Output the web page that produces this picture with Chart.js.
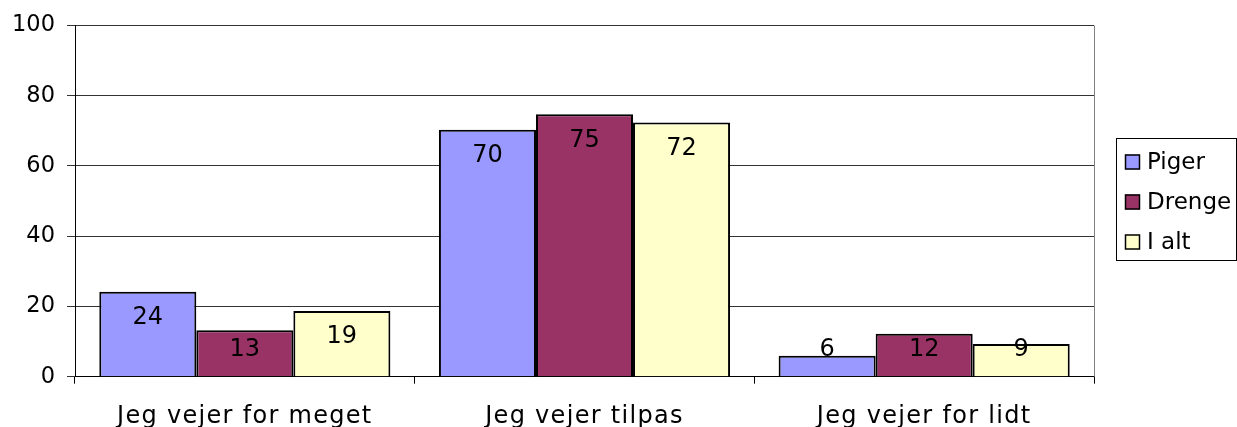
<!DOCTYPE html>
<html>
<head>
<meta charset="utf-8">
<style>
  html, body { margin: 0; padding: 0; background: #fff; }
  #wrap { width: 1237px; height: 427px; position: relative; }
</style>
<script src="https://cdn.jsdelivr.net/npm/chart.js@4.4.1/dist/chart.umd.min.js"></script>
</head>
<body>
<div id="wrap"><canvas id="c" width="1237" height="427"></canvas></div>
<script>
const categories = ["Jeg vejer for meget", "Jeg vejer tilpas", "Jeg vejer for lidt"];
const seriesNames = ["Piger", "Drenge", "I alt"];
const piger = [24.2, 70.3, 6.0];
const drenge = [13.2, 74.7, 12.2];
const iAlt = [18.7, 72.4, 9.3];
const yTicks = [0, 20, 40, 60, 80, 100];

const colors = ["#9999FF", "#993366", "#FFFFCC"];
const FONT = "DejaVu Sans";
const FS = 22.5;

const valueLabels = {
  id: 'valueLabels',
  afterDatasetsDraw(chart) {
    const ctx = chart.ctx;
    ctx.save();
    ctx.font = '24px "' + FONT + '"';
    ctx.fillStyle = '#000';
    ctx.textAlign = 'center';
    ctx.textBaseline = 'middle';
    chart.data.datasets.forEach((ds, i) => {
      const meta = chart.getDatasetMeta(i);
      meta.data.forEach((el, j) => {
        const top = el.y, base = el.base;
        const cy = Math.min(top + 26, base - 26);
        ctx.fillText(String(Math.round(ds.data[j])), el.x, cy);
      });
    });
    ctx.restore();
  }
};

const frameAndLegend = {
  id: 'frameAndLegend',
  beforeDraw(chart) {
    const xs = chart.scales.x;
    if (xs && !xs._lsPatched) {
      const orig = xs.drawLabels;
      xs.drawLabels = function (area) {
        const c = this.ctx;
        c.save();
        c.letterSpacing = '1.3px';
        orig.call(this, area);
        c.restore();
      };
      xs._lsPatched = true;
    }
  },
  afterDraw(chart) {
    const ctx = chart.ctx;
    const a = chart.chartArea;
    ctx.save();
    ctx.strokeStyle = '#808080';
    ctx.lineWidth = 1;
    ctx.beginPath();
    ctx.moveTo(Math.round(a.right) + 0.5, a.top);
    ctx.lineTo(Math.round(a.right) + 0.5, a.bottom);
    ctx.stroke();
    const lx = 1116, ly = 138, lw = 120, lh = 122;
    ctx.strokeStyle = '#000';
    ctx.strokeRect(lx + 0.5, ly + 0.5, lw, lh);
    ctx.font = '23px "' + FONT + '"';
    ctx.textAlign = 'left';
    ctx.textBaseline = 'middle';
    chart.data.datasets.forEach((ds, i) => {
      const cy = 162 + i * 40;
      ctx.fillStyle = ds.backgroundColor;
      ctx.fillRect(1125, cy - 7.5, 15, 15);
      ctx.strokeStyle = '#000';
      ctx.lineWidth = 1.5;
      ctx.strokeRect(1125.5, cy - 7, 14, 14);
      ctx.fillStyle = '#000';
      ctx.fillText(ds.label, 1147, cy + 1);
    });
    ctx.restore();
  }
};

const chart = new Chart(document.getElementById('c'), {
  type: 'bar',
  data: {
    labels: categories,
    datasets: [
      { label: seriesNames[0], data: piger, backgroundColor: colors[0] },
      { label: seriesNames[1], data: drenge, backgroundColor: colors[1] },
      { label: seriesNames[2], data: iAlt, backgroundColor: colors[2] }
    ].map(d => Object.assign(d, {
      borderColor: '#000', borderWidth: 2,
      categoryPercentage: 0.857, barPercentage: 1.0
    }))
  },
  options: {
    responsive: false,
    animation: false,
    layout: { padding: { top: 22.5, right: 143, left: 0, bottom: 0 } },
    plugins: { legend: { display: false }, tooltip: { enabled: false } },
    scales: {
      x: {
        grid: { drawOnChartArea: false, drawTicks: true, tickLength: 7, color: '#000', offset: true },
        border: { color: '#000', width: 1 },
        ticks: { color: '#000', font: { family: FONT, size: 24 }, padding: 19, maxRotation: 0, autoSkip: false },
        afterFit(s) { s.height = 50.3; }
      },
      y: {
        min: 0, max: 100,
        afterBuildTicks(s) { s.ticks = yTicks.map(v => ({ value: v })); },
        grid: { color: '#333', lineWidth: 1, tickLength: 8, drawTicks: true },
        border: { color: '#000', width: 1 },
        ticks: { color: '#000', font: { family: FONT, size: FS }, padding: 12 },
        afterFit(s) { s.width = 75; }
      }
    }
  },
  plugins: [valueLabels, frameAndLegend]
});
</script>
</body>
</html>
